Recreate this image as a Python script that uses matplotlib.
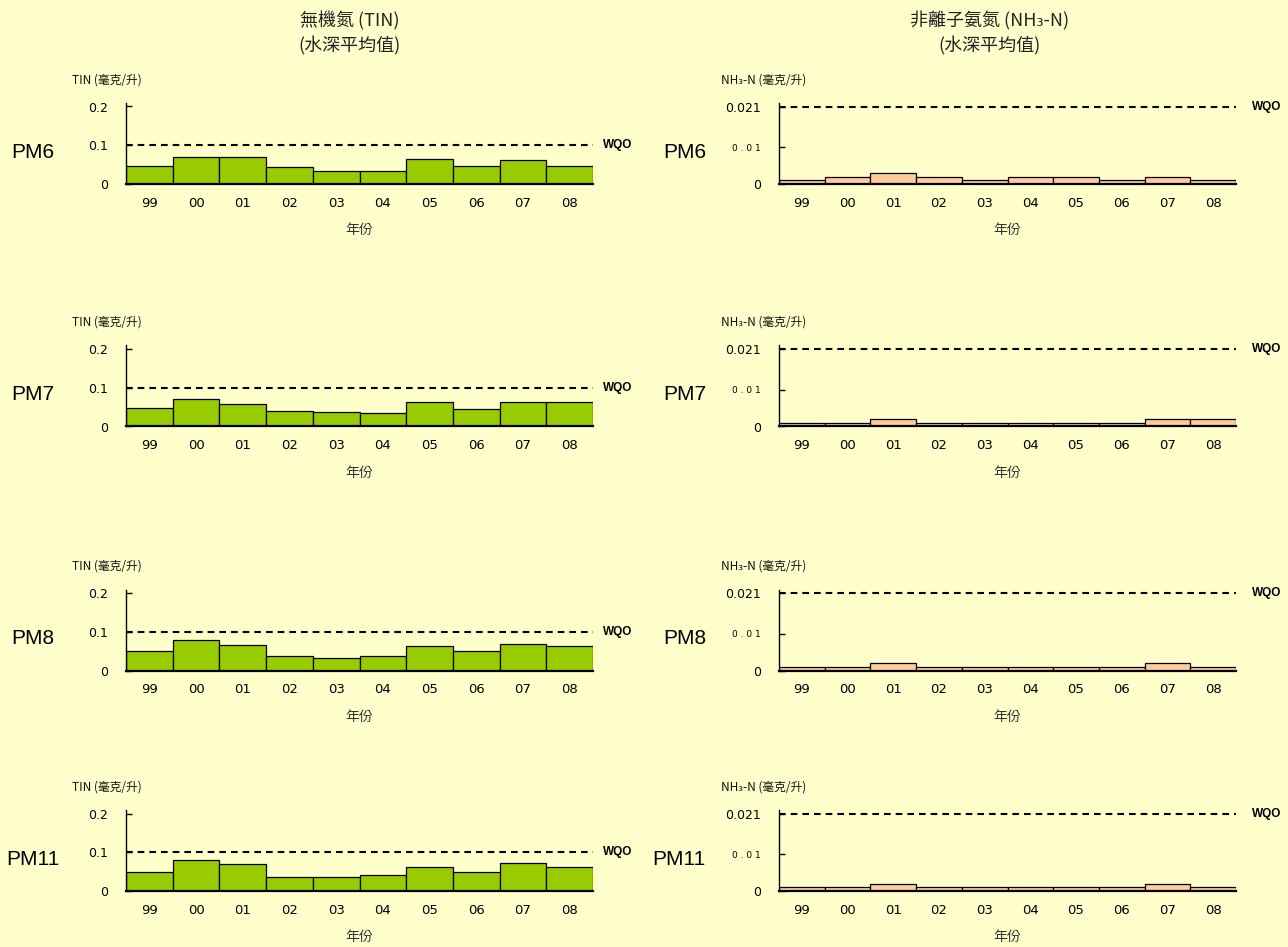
import matplotlib
matplotlib.use("Agg")
import matplotlib.pyplot as plt

# ---------------- data ----------------
years = ['99', '00', '01', '02', '03', '04', '05', '06', '07', '08']
stations = ['PM6', 'PM7', 'PM8', 'PM11']

tin_pm6 = [0.047, 0.069, 0.069, 0.044, 0.034, 0.034, 0.065, 0.047, 0.063, 0.047]
tin_pm7 = [0.047, 0.072, 0.059, 0.039, 0.038, 0.034, 0.064, 0.044, 0.064, 0.063]
tin_pm8 = [0.050, 0.078, 0.067, 0.037, 0.033, 0.038, 0.063, 0.050, 0.068, 0.062]
tin_pm11 = [0.048, 0.079, 0.070, 0.037, 0.037, 0.041, 0.062, 0.050, 0.072, 0.062]

nh3_pm6 = [0.001, 0.002, 0.003, 0.002, 0.001, 0.002, 0.002, 0.001, 0.002, 0.001]
nh3_pm7 = [0.001, 0.001, 0.002, 0.001, 0.001, 0.001, 0.001, 0.001, 0.002, 0.002]
nh3_pm8 = [0.001, 0.001, 0.002, 0.001, 0.001, 0.001, 0.001, 0.001, 0.002, 0.001]
nh3_pm11 = [0.001, 0.001, 0.002, 0.001, 0.001, 0.001, 0.001, 0.001, 0.002, 0.001]

tin_wqo = 0.1
nh3_wqo = 0.021
tin_yticks = [0, 0.1, 0.2]
tin_yticklabels = ['0', '0.1', '0.2']
nh3_yticks = [0, 0.01, 0.021]
nh3_yticklabels = ['0', '0 . 0 1', '0.021']

tin_title = ['無機氮 (TIN)', '(水深平均值)']
nh3_title = ['非離子氨氮 (NH₃-N)', '(水深平均值)']
tin_ylabel = 'TIN (毫克/升)'
nh3_ylabel = 'NH₃-N (毫克/升)'
xlabel = '年份'

tin_series = [tin_pm6, tin_pm7, tin_pm8, tin_pm11]
nh3_series = [nh3_pm6, nh3_pm7, nh3_pm8, nh3_pm11]

# ---------------- style ----------------
BG = '#FFFFCC'
GREEN = '#99CC00'
ORANGE = '#FFCC99'
CJK = ['Noto Sans CJK TC', 'DejaVu Sans']
NUM = ['DejaVu Sans']
LAB = ['Liberation Sans', 'DejaVu Sans']

W, H = 1288, 947
fig = plt.figure(figsize=(W / 100, H / 100), dpi=100, facecolor=BG)

row_bottoms = [184, 426.5, 670.5, 891]
AX_H = 81.0
SCALE_PX = 77.5  # pixels from 0 to top tick

panels = [
    dict(x0=126, x1=593, series=tin_series, color=GREEN, wqo=tin_wqo,
         yticks=tin_yticks, ylabels=tin_yticklabels, top=0.2,
         ylabel=tin_ylabel, ylabel_x=72, title=tin_title, title_x=350,
         wqo_off=7.0, pm_x=33, pm_ha='center', small_mid=False),
    dict(x0=779, x1=1236, series=nh3_series, color=ORANGE, wqo=nh3_wqo,
         yticks=nh3_yticks, ylabels=nh3_yticklabels, top=0.021,
         ylabel=nh3_ylabel, ylabel_x=721, title=nh3_title, title_x=990,
         wqo_off=11.5, pm_x=706, pm_ha='right', small_mid=True),
]

for p in panels:
    # title
    fig.text(p['title_x'] / W, 1 - 21 / H, p['title'][0], ha='center', va='center',
             fontsize=13, family=CJK, color='#222222')
    fig.text(p['title_x'] / W, 1 - 46 / H, p['title'][1], ha='center', va='center',
             fontsize=13, family=CJK, color='#222222')
    for r, yb in enumerate(row_bottoms):
        ax = fig.add_axes([p['x0'] / W, 1 - yb / H, (p['x1'] - p['x0']) / W, AX_H / H])
        ax.set_facecolor('none')
        vals = p['series'][r]
        ax.bar(range(len(years)), vals, width=1.0, color=p['color'],
               edgecolor='black', linewidth=0.9, zorder=2)
        ax.set_xlim(-0.5, len(years) - 0.5)
        ax.set_ylim(0, p['top'] * AX_H / SCALE_PX)
        ax.axhline(p['wqo'], color='black', lw=1.5, ls=(0, (3.2, 2.4)), zorder=3)
        ax.annotate('WQO', xy=(1, p['wqo']), xycoords=('axes fraction', 'data'),
                    xytext=(p['wqo_off'], 0), textcoords='offset points',
                    ha='left', va='center', fontsize=8.5, fontweight='bold',
                    family=LAB, annotation_clip=False)
        for s in ['top', 'right']:
            ax.spines[s].set_visible(False)
        ax.spines['left'].set_linewidth(1.0)
        ax.spines['bottom'].set_linewidth(1.6)
        ax.set_xticks(range(len(years)))
        ax.set_xticklabels(years, fontsize=9.5, family=NUM)
        ax.tick_params(axis='x', length=0, pad=9)
        ax.set_yticks(p['yticks'])
        labs = ax.set_yticklabels(p['ylabels'], fontsize=9, family=NUM)
        if p['small_mid']:
            labs[1].set_fontsize(6.5)
        ax.tick_params(axis='y', direction='in', length=4, width=1, pad=13)
        ax.set_xlabel(xlabel, family=CJK, fontsize=10, color='#333333', labelpad=10)
        # y unit label above axis
        fig.text(p['ylabel_x'] / W, 1 - (yb - 104) / H, p['ylabel'], ha='left',
                 va='center', fontsize=8.5, family=CJK, color='#111111')
        # station label
        fig.text(p['pm_x'] / W, 1 - (yb - 32) / H, stations[r], ha=p['pm_ha'],
                 va='center', fontsize=15, family=LAB, color='black')

fig.savefig('out.png', dpi=100, facecolor=BG)
